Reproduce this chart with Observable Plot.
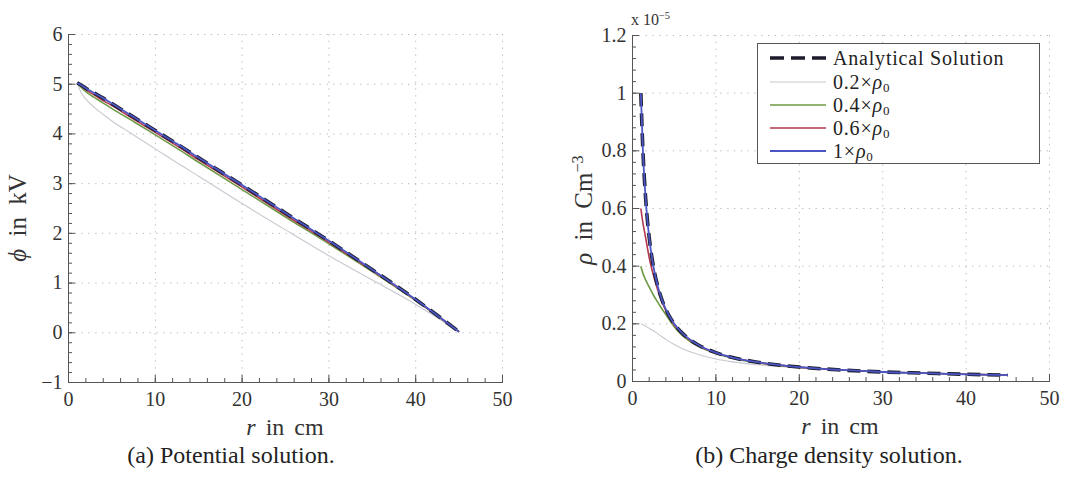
<!DOCTYPE html>
<html><head><meta charset="utf-8">
<script src="https://cdn.jsdelivr.net/npm/d3@7"></script>
<script src="https://cdn.jsdelivr.net/npm/@observablehq/plot@0.6"></script>
<style>
body{margin:0;background:#fff;}
#wrap{position:relative;width:1082px;height:480px;font-family:"Liberation Serif","Times New Roman",Times,"DejaVu Serif",serif;color:#222;overflow:hidden;background:#fff}
.panel{position:absolute;top:0}
.lbl{position:absolute;white-space:nowrap;line-height:1;color:#333}
.rot{transform:translate(-50%,-50%) rotate(-90deg);}
.cap{position:absolute;white-space:nowrap;font-size:24px;line-height:1;transform:translateX(-50%);color:#222}
#legend{position:absolute;left:757px;top:43px;width:281px;height:119px;border:1px solid #555;background:#fff;font-size:20px;color:#222;letter-spacing:0.8px}
#legend .row{position:absolute;left:12px;height:20px;line-height:20px;display:flex;align-items:center}
#legend svg{width:56px;height:8px;margin-right:7px}
sub{font-size:0.65em;vertical-align:-0.2em;line-height:0}
sup{font-size:0.65em;vertical-align:0.55em;line-height:0}
</style></head>
<body>
<div id="wrap">
  <div id="p1" class="panel" style="left:0"></div>
  <div id="p2" class="panel" style="left:541px"></div>
  <div class="lbl" style="left:285px;top:415px;font-size:24px;transform:translateX(-50%);word-spacing:4px"><i>r</i> in cm</div>
  <div class="lbl" style="left:840px;top:414px;font-size:24px;transform:translateX(-50%);word-spacing:4px"><i>r</i> in cm</div>
  <div class="lbl rot" style="left:17px;top:218px;font-size:25px;word-spacing:6px"><i>ϕ</i> in kV</div>
  <div class="lbl rot" style="left:583px;top:210px;font-size:25px;word-spacing:6px"><i>ρ</i> in Cm<sup>−3</sup></div>
  <div class="lbl" style="left:631px;top:12px;font-size:16px">x 10<sup>−5</sup></div>
  <div id="legend"></div>
  <div class="cap" style="left:231px;top:443px">(a) Potential solution.</div>
  <div class="cap" style="left:829px;top:443px">(b) Charge density solution.</div>
</div>
<script>
// ---------- data: potential (kV) ----------
const rPhi      = [1, 1.5, 2, 3, 4, 5, 7.5, 10, 12.5, 15, 20, 25, 30, 35, 40, 45];
const phiAnalyt = [5.03, 4.98, 4.92, 4.82, 4.72, 4.61, 4.34, 4.07, 3.80, 3.52, 2.97, 2.41, 1.85, 1.27, 0.67, 0.02];
const phi02     = [5.02, 4.82, 4.70, 4.53, 4.39, 4.26, 3.98, 3.70, 3.42, 3.15, 2.60, 2.07, 1.55, 1.06, 0.57, 0.02];
const phi04     = [5.02, 4.93, 4.85, 4.73, 4.62, 4.51, 4.25, 3.98, 3.71, 3.43, 2.88, 2.33, 1.79, 1.23, 0.65, 0.02];
const phi06     = [5.03, 4.96, 4.89, 4.78, 4.67, 4.57, 4.30, 4.03, 3.76, 3.48, 2.93, 2.37, 1.82, 1.25, 0.66, 0.02];
const phi10     = [5.03, 4.98, 4.92, 4.82, 4.72, 4.61, 4.34, 4.07, 3.80, 3.52, 2.97, 2.41, 1.85, 1.27, 0.67, 0.02];

// ---------- data: charge density (x 1e-5 C/m^3) ----------
const rRho      = [1, 1.25, 1.5, 1.75, 2, 2.5, 3, 3.5, 4, 5, 6, 7, 8, 10, 12, 15, 20, 25, 30, 35, 40, 45];
const rhoAnalyt = [1.0, 0.80, 0.667, 0.571, 0.50, 0.40, 0.333, 0.286, 0.25, 0.20, 0.167, 0.143, 0.125, 0.10, 0.083, 0.067, 0.05, 0.04, 0.033, 0.029, 0.025, 0.022];
const rho02     = [0.20, 0.197, 0.193, 0.189, 0.185, 0.176, 0.166, 0.156, 0.146, 0.128, 0.114, 0.102, 0.093, 0.078, 0.068, 0.058, 0.047, 0.039, 0.033, 0.028, 0.025, 0.022];
const rho04     = [0.40, 0.375, 0.357, 0.342, 0.328, 0.300, 0.276, 0.253, 0.232, 0.19, 0.159, 0.137, 0.12, 0.097, 0.081, 0.065, 0.049, 0.04, 0.033, 0.029, 0.025, 0.022];
const rho06     = [0.60, 0.55, 0.51, 0.47, 0.43, 0.37, 0.32, 0.28, 0.245, 0.197, 0.164, 0.141, 0.123, 0.099, 0.083, 0.066, 0.05, 0.04, 0.033, 0.029, 0.025, 0.022];
const rho10     = [1.0, 0.80, 0.667, 0.571, 0.50, 0.40, 0.333, 0.286, 0.25, 0.20, 0.167, 0.143, 0.125, 0.10, 0.083, 0.067, 0.05, 0.04, 0.033, 0.029, 0.025, 0.022];

// ---------- ticks ----------
const xMajor = [0, 10, 20, 30, 40, 50];
const xMinor = d3.range(0, 50.01, 2);
const phiMajor = [-1, 0, 1, 2, 3, 4, 5, 6];
const phiMinor = d3.range(-1, 6.001, 0.2);
const rhoMajor = [0, 0.2, 0.4, 0.6, 0.8, 1.0, 1.2];
const rhoMinor = d3.range(0, 1.2001, 0.04);

// ---------- series ----------
const seriesNames = ["Analytical Solution", "0.2×ρ0", "0.4×ρ0", "0.6×ρ0", "1×ρ0"];
const seriesStyle = {
  "0.2×ρ0": {stroke: "#c6c9d0", strokeWidth: 1.1},
  "0.4×ρ0": {stroke: "#6f9a45", strokeWidth: 1.6},
  "0.6×ρ0": {stroke: "#b3384f", strokeWidth: 1.6},
  "Analytical Solution": {stroke: "#1c1c2c", strokeWidth: 3.6, strokeDasharray: "13,7"},
  "1×ρ0": {stroke: "#4b56c4", strokeWidth: 1.8}
};
const drawOrder = ["0.2×ρ0", "0.4×ρ0", "0.6×ρ0", "Analytical Solution", "1×ρ0"];
const serif = '"Liberation Serif","Times New Roman",Times,"DejaVu Serif",serif';

function table(r, ys) {
  const out = [];
  for (const [name, y] of Object.entries(ys)) y.forEach((v, i) => out.push({series: name, r: r[i], v}));
  return out;
}
const phiData = table(rPhi, {"Analytical Solution": phiAnalyt, "0.2×ρ0": phi02, "0.4×ρ0": phi04, "0.6×ρ0": phi06, "1×ρ0": phi10});
const rhoData = table(rRho, {"Analytical Solution": rhoAnalyt, "0.2×ρ0": rho02, "0.4×ρ0": rho04, "0.6×ρ0": rho06, "1×ρ0": rho10});

function panel({data, yDomain, yMajor, yMinor, marginLeft, marginRight, marginTop, marginBottom}) {
  const W = 541, H = 420;
  const pw = W - marginLeft - marginRight, ph = H - marginTop - marginBottom;
  const axisColor = "#555";
  const lines = drawOrder.map(name => Plot.line(data.filter(d => d.series === name), {
    x: "r", y: "v", curve: "monotone-x", strokeLinecap: "butt", ...seriesStyle[name]
  }));
  return Plot.plot({
    width: W, height: H, marginLeft, marginRight, marginTop, marginBottom,
    style: {fontFamily: serif, background: "transparent", overflow: "visible"},
    x: {domain: [0, 50]},
    y: {domain: yDomain},
    marks: [
      Plot.gridX(xMajor, {stroke: "#a8a8a8", strokeOpacity: 0.8, strokeDasharray: "1.3,5.5"}),
      Plot.gridY(yMajor, {stroke: "#a8a8a8", strokeOpacity: 0.8, strokeDasharray: "1.3,5.5"}),
      Plot.tickX(xMinor, {x: d => d, insetTop: ph - 4, stroke: axisColor}),
      Plot.tickX(xMajor, {x: d => d, insetTop: ph - 7, stroke: axisColor}),
      Plot.tickY(yMinor, {y: d => d, insetRight: pw - 4, stroke: axisColor}),
      Plot.tickY(yMajor, {y: d => d, insetRight: pw - 7, stroke: axisColor}),
      Plot.frame({anchor: "bottom", stroke: axisColor}),
      Plot.frame({anchor: "left", stroke: axisColor}),
      Plot.axisX({ticks: xMajor, tickSize: 0, tickPadding: 9, label: null, fontSize: 20, fill: "#333", fontFamily: serif}),
      Plot.axisY({ticks: yMajor, tickSize: 0, tickPadding: 6, label: null, fontSize: 20, fill: "#333", fontFamily: serif, tickFormat: d3.format("")}),
      ...lines
    ]
  });
}

document.getElementById("p1").append(panel({
  data: phiData, yDomain: [-1, 6], yMajor: phiMajor, yMinor: phiMinor,
  marginLeft: 68, marginRight: 39, marginTop: 34, marginBottom: 38
}));
document.getElementById("p2").append(panel({
  data: rhoData, yDomain: [0, 1.2], yMajor: rhoMajor, yMinor: rhoMinor,
  marginLeft: 91, marginRight: 33, marginTop: 35, marginBottom: 39
}));

// ---------- legend ----------
const legend = document.getElementById("legend");
const rowTops = [4, 28, 51, 74, 97];
seriesNames.forEach((name, i) => {
  const st = seriesStyle[name];
  const row = document.createElement("div");
  row.className = "row";
  row.style.top = rowTops[i] + "px";
  const label = name === "Analytical Solution" ? "Analytical Solution"
    : name.replace("×ρ0", "") + "×<i>ρ</i><sub>0</sub>";
  row.innerHTML = `<svg viewBox="0 0 56 8"><line x1="0" y1="4" x2="56" y2="4" stroke="${st.stroke}" stroke-width="${st.strokeWidth}" ${st.strokeDasharray ? `stroke-dasharray="14,7"` : ""}/></svg><span>${label}</span>`;
  legend.append(row);
});
</script>
</body></html>
